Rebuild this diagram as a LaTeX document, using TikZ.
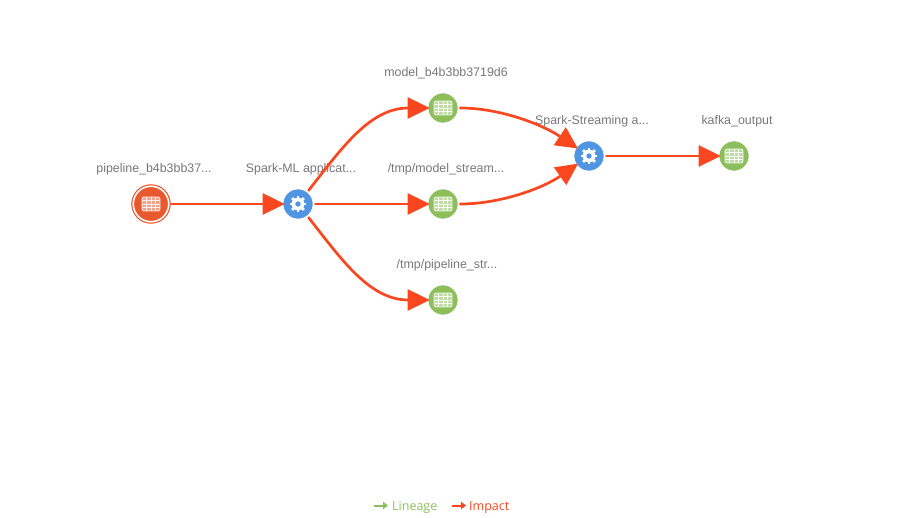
\documentclass[tikz,border=0pt]{standalone}
\usepackage{fontspec}
\setmainfont{Liberation Sans}
\newfontfamily\legendfont{Open Sans}
\usetikzlibrary{arrows.meta}
\definecolor{impactcol}{HTML}{FB4720}
\definecolor{lineagecol}{HTML}{8CBF5F}
\definecolor{datasetcol}{HTML}{8DBE5C}
\definecolor{processcol}{HTML}{4F95E2}
\definecolor{origincol}{HTML}{E9592F}
\definecolor{captioncol}{HTML}{777777}
\begin{document}
\begin{tikzpicture}[x=1pt,y=-1pt,
    every label/.style={text=captioncol, font=\fontsize{12.4}{14}\selectfont, text height=9pt, text depth=2.5pt, inner sep=0pt, xshift=3pt, yshift=13.5pt}]
    \tikzstyle{base} = [circle, minimum size=30pt, inner sep=0pt, draw=white, line width=.6pt]
    \tikzstyle{datasetnode} = [base, fill=datasetcol]
    \tikzstyle{processnode} = [base, fill=processcol]
    \tikzstyle{originnode} = [base, fill=origincol, draw=origincol, line width=1.2pt, double=white, double distance=1.6pt, minimum size=35.5pt]
    \tikzstyle{arrow} = [impactcol, line width=2.7pt, line cap=round, shorten <=2pt, shorten >=-2pt, -{Triangle[length=22pt,width=21pt]}]
    \tikzstyle{legendarrow} = [line width=2pt, -{Triangle[length=5pt,width=7.5pt]}]
    \tikzstyle{legendtext} = [font=\legendfont\fontsize{12.5}{14}\selectfont, inner sep=0pt]

    \useasboundingbox (0,0) rectangle (924,518);

    \node (pipeline) [originnode, label={[yshift=-3pt]above:pipeline\_b4b3bb37...}] at (151,204) {};
    \node (sparkml) [processnode, label={above:Spark-ML applicat...}] at (298,204) {};
    \node (model) [datasetnode, label={above:model\_b4b3bb3719d6}] at (443,108) {};
    \node (tmpmodel) [datasetnode, label={above:/tmp/model\_stream...}] at (443,204) {};
    \node (tmppipeline) [datasetnode, label={[xshift=1pt]above:/tmp/pipeline\_str...}] at (443,300) {};
    \node (streaming) [processnode, label={above:Spark-Streaming a...}] at (589,156) {};
    \node (kafka) [datasetnode, label={above:kafka\_output}] at (734,156) {};

    % table icons
    \foreach \n in {pipeline, model, tmpmodel, tmppipeline, kafka} {
        \fill[white, opacity=.45, rounded corners=1.5pt] ([shift={(-9,-7)}]\n.center) rectangle ([shift={(9,7)}]\n.center);
        \draw[white, opacity=.85, line width=.8pt, rounded corners=1.5pt] ([shift={(-9,-7)}]\n.center) rectangle ([shift={(9,7)}]\n.center);
        \foreach \i in {-4.5,0,4.5}
            \draw[white, opacity=.85, line width=.8pt] ([shift={(\i,-7)}]\n.center) -- ([shift={(\i,7)}]\n.center);
        \foreach \j in {-3.5,0,3.5}
            \draw[white, opacity=.85, line width=.8pt] ([shift={(-9,\j)}]\n.center) -- ([shift={(9,\j)}]\n.center);
    }
    % gear icons
    \foreach \n in {sparkml, streaming} {
        \foreach \a in {0,45,...,315}
            \draw[white, line width=2.8pt] (\n.center) -- ([shift={(\a:8.4)}]\n.center);
        \fill[white] (\n.center) circle (6.4pt);
        \fill[processcol] (\n.center) circle (2.7pt);
    }

    \draw[arrow] (pipeline) -- (sparkml);
    \draw[arrow] (sparkml) -- (tmpmodel);
    \draw[arrow] (sparkml) to[out=52, in=180] (model);
    \draw[arrow] (sparkml) to[out=-52, in=180] (tmppipeline);
    \draw[arrow] (model) to[out=0, in=146, looseness=.85] (streaming);
    \draw[arrow] (tmpmodel) to[out=0, in=215, looseness=.85] (streaming);
    \draw[arrow] (streaming) -- (kafka);

    \coordinate (lineagestart) at (374,505.5);
    \coordinate (lineageend) at (388,505.5);
    \coordinate (impactstart) at (452,505.5);
    \coordinate (impactend) at (466,505.5);
    \draw[legendarrow, lineagecol] (lineagestart) -- (lineageend);
    \node (lineagetext) [legendtext, text=lineagecol, anchor=base west] at (392,510) {Lineage};
    \draw[legendarrow, impactcol] (impactstart) -- (impactend);
    \node (impacttext) [legendtext, text=impactcol, anchor=base west] at (469,510) {Impact};
\end{tikzpicture}
\end{document}
